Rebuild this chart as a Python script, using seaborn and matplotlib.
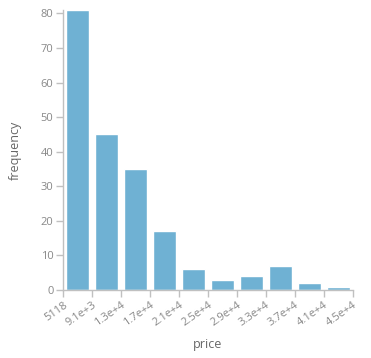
import matplotlib
matplotlib.use("Agg")
import matplotlib.pyplot as plt
import seaborn as sns
import pandas as pd
import numpy as np

bin_labels = ["5118", "9.1e+3", "1.3e+4", "1.7e+4", "2.1e+4", "2.5e+4",
              "2.9e+4", "3.3e+4", "3.7e+4", "4.1e+4", "4.5e+4"]
bins = ["b0", "b1", "b2", "b3", "b4", "b5", "b6", "b7", "b8", "b9"]
frequency = [81, 45, 35, 17, 6, 3, 4, 7, 2, 1]

df = pd.DataFrame({"bin": bins, "frequency": frequency})

sns.set_theme(style="white")
plt.rcParams["font.family"] = ["Open Sans", "DejaVu Sans"]

fig = plt.figure(figsize=(3.71, 3.58), dpi=100)
W, H = 371, 358
ax = fig.add_axes([63.3 / W, (H - 290) / H, (352.7 - 63.3) / W, (290 - 10) / H])

sns.barplot(data=df, x="bin", y="frequency", color="#6fb1d3", width=0.8,
            saturation=1, ax=ax)

ax.set_xlim(-0.5, len(bins) - 0.5)
ax.set_ylim(0, 81)
ax.set_yticks(range(0, 81, 10))
ax.set_xticks(np.arange(len(bin_labels)) - 0.5)
ax.set_xticklabels(bin_labels, rotation=35, ha="right", va="top",
                   rotation_mode="anchor")

for s in ["top", "right"]:
    ax.spines[s].set_visible(False)
for s in ["left", "bottom"]:
    ax.spines[s].set_color("#c0c0c0")
    ax.spines[s].set_linewidth(1)

ax.tick_params(axis="both", which="both", length=5, width=1, color="#c0c0c0",
               labelsize=8, labelcolor="#888888", pad=2,
               left=True, bottom=True)

ax.set_xlabel("price", fontsize=9, color="#666666", labelpad=7)
ax.set_ylabel("frequency", fontsize=9, color="#666666", labelpad=14)

fig.savefig("out.png", dpi=100)
